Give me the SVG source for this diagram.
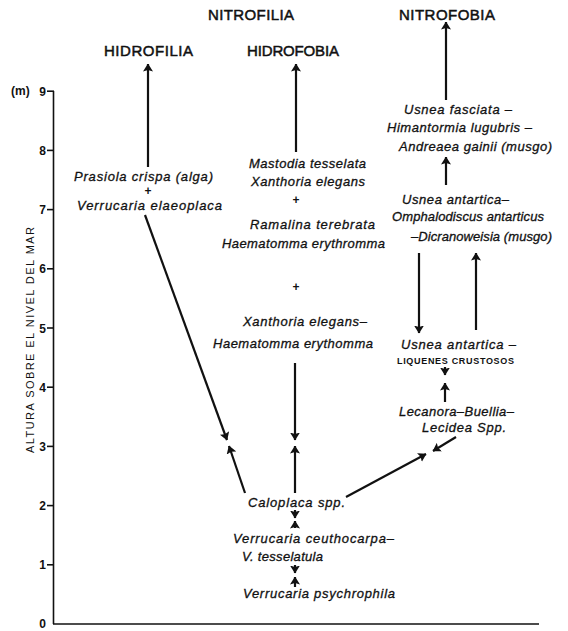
<svg xmlns="http://www.w3.org/2000/svg" width="568" height="631" viewBox="0 0 568 631">
<style>
.h{font-family:"Liberation Sans",Arial,sans-serif;font-size:15px;fill:#111;stroke:#111;stroke-width:0.5;}
.t{font-family:"Liberation Sans",Arial,sans-serif;font-size:13px;font-style:italic;fill:#111;stroke:#111;stroke-width:0.3;}
.sc{font-family:"Liberation Sans",Arial,sans-serif;font-size:9px;font-weight:bold;fill:#111;}
.ax{font-family:"Liberation Sans",Arial,sans-serif;font-size:12px;font-weight:bold;fill:#111;}
.lab{font-family:"Liberation Sans",Arial,sans-serif;font-size:11px;fill:#111;}
.pl{font-family:"Liberation Sans",Arial,sans-serif;font-size:12px;font-weight:bold;fill:#111;}
.c line{stroke:#111;stroke-width:2.2;fill:none;marker-end:url(#ah);}
.axis line{stroke:#111;stroke-width:1.6;}
</style>
<defs>
<marker id="ah" viewBox="0 0 8 10" refX="7.5" refY="5" markerWidth="8" markerHeight="10" markerUnits="userSpaceOnUse" orient="auto">
<path d="M0,0 L8,5 L0,10 L1.5,5 z" fill="#111"/>
</marker>
</defs>
<rect width="568" height="631" fill="#fff"/>

<g id="axis" class="axis">
<line x1="53.5" y1="91" x2="53.5" y2="624"/>
<line x1="53" y1="624" x2="539" y2="624" stroke-width="2"/>
<line x1="47" y1="91.2" x2="54" y2="91.2"/>
<line x1="47" y1="150.4" x2="54" y2="150.4"/>
<line x1="47" y1="209.6" x2="54" y2="209.6"/>
<line x1="47" y1="268.8" x2="54" y2="268.8"/>
<line x1="47" y1="328" x2="54" y2="328"/>
<line x1="47" y1="387.2" x2="54" y2="387.2"/>
<line x1="47" y1="446.4" x2="54" y2="446.4"/>
<line x1="47" y1="505.6" x2="54" y2="505.6"/>
<line x1="47" y1="564.8" x2="54" y2="564.8"/>
<g text-anchor="end">
<text class="ax" x="46" y="96">9</text>
<text class="ax" x="46" y="155">8</text>
<text class="ax" x="46" y="214">7</text>
<text class="ax" x="46" y="273">6</text>
<text class="ax" x="46" y="333">5</text>
<text class="ax" x="46" y="392">4</text>
<text class="ax" x="46" y="451">3</text>
<text class="ax" x="46" y="510">2</text>
<text class="ax" x="46" y="569">1</text>
<text class="ax" x="46" y="628">0</text>
</g>
<text class="ax" x="11" y="95" font-size="11">(m)</text>
<text class="lab" transform="translate(34,340) rotate(-90)" text-anchor="middle" textLength="226" lengthAdjust="spacing">ALTURA  SOBRE  EL  NIVEL  DEL  MAR</text>
</g>

<g id="h-nitrofilia"><text class="h" x="208" y="20" textLength="86">NITROFILIA</text></g>
<g id="h-nitrofobia"><text class="h" x="399" y="20" textLength="96">NITROFOBIA</text></g>
<g id="h-hidrofilia"><text class="h" x="104" y="56" textLength="89">HIDROFILIA</text></g>
<g id="h-hidrofobia"><text class="h" x="247" y="56" textLength="92">HIDROFOBIA</text></g>

<g id="n-prasiola">
<text class="t" x="74" y="181" textLength="139">Prasiola crispa (alga)</text>
<text class="pl" x="148" y="195" text-anchor="middle" font-size="10">+</text>
<text class="t" x="77" y="210" textLength="145">Verrucaria elaeoplaca</text>
</g>

<g id="n-mastodia">
<text class="t" x="249" y="168" textLength="117">Mastodia tesselata</text>
<text class="t" x="251" y="186" textLength="114">Xanthoria elegans</text>
<text class="pl" x="296" y="204" text-anchor="middle">+</text>
<text class="t" x="250" y="229" textLength="125">Ramalina terebrata</text>
<text class="t" x="222" y="248" textLength="163">Haematomma erythromma</text>
<text class="pl" x="296" y="291" text-anchor="middle">+</text>
</g>

<g id="n-xanthoria">
<text class="t" x="243" y="326" textLength="124">Xanthoria elegans–</text>
<text class="t" x="213" y="348" textLength="160">Haematomma erythomma</text>
</g>

<g id="n-usnea-fasciata">
<text class="t" x="404" y="114" textLength="108">Usnea fasciata –</text>
<text class="t" x="387" y="132" textLength="145">Himantormia lugubris –</text>
<text class="t" x="399" y="151" textLength="153">Andreaea gainii (musgo)</text>
</g>

<g id="n-usnea-omphalodiscus">
<text class="t" x="402" y="204" textLength="107">Usnea antartica–</text>
<text class="t" x="392" y="221" textLength="152">Omphalodiscus antarticus</text>
<text class="t" x="411" y="241" textLength="141">–Dicranoweisia (musgo)</text>
</g>

<g id="n-usnea-liquenes">
<text class="t" x="401" y="349" textLength="115">Usnea antartica –</text>
<text class="sc" x="397" y="364" textLength="117">LIQUENES CRUSTOSOS</text>
</g>

<g id="n-lecanora">
<text class="t" x="399" y="416" textLength="115">Lecanora–Buellia–</text>
<text class="t" x="422" y="432" textLength="84">Lecidea Spp.</text>
</g>

<g id="n-caloplaca"><text class="t" x="248" y="507" textLength="97">Caloplaca spp.</text></g>

<g id="n-ceuthocarpa">
<text class="t" x="233" y="543" textLength="161">Verrucaria ceuthocarpa–</text>
<text class="t" x="242" y="561" textLength="81">V. tesselatula</text>
</g>

<g id="n-psychrophila"><text class="t" x="243" y="598" textLength="152">Verrucaria psychrophila</text></g>

<g id="connectors" class="c">
<line x1="148" y1="167" x2="148" y2="64"/>
<line x1="296" y1="152" x2="296" y2="64"/>
<line x1="446" y1="100" x2="446" y2="22"/>
<line x1="446" y1="185" x2="446" y2="157"/>
<line x1="419" y1="253" x2="419" y2="333"/>
<line x1="476" y1="330" x2="476" y2="253"/>
<line x1="445" y1="367" x2="445" y2="375"/>
<line x1="445" y1="402" x2="445" y2="383"/>
<line x1="456" y1="437" x2="433" y2="451"/>
<line x1="346" y1="497" x2="426" y2="454"/>
<line x1="145" y1="215" x2="227" y2="440"/>
<line x1="245" y1="493" x2="229" y2="446"/>
<line x1="295" y1="363" x2="295" y2="440"/>
<line x1="295" y1="493" x2="295" y2="446"/>
<line x1="295" y1="510" x2="295" y2="518"/>
<line x1="295" y1="528" x2="295" y2="521"/>
<line x1="295" y1="565" x2="295" y2="573"/>
<line x1="295" y1="587" x2="295" y2="577"/>
</g>
</svg>
